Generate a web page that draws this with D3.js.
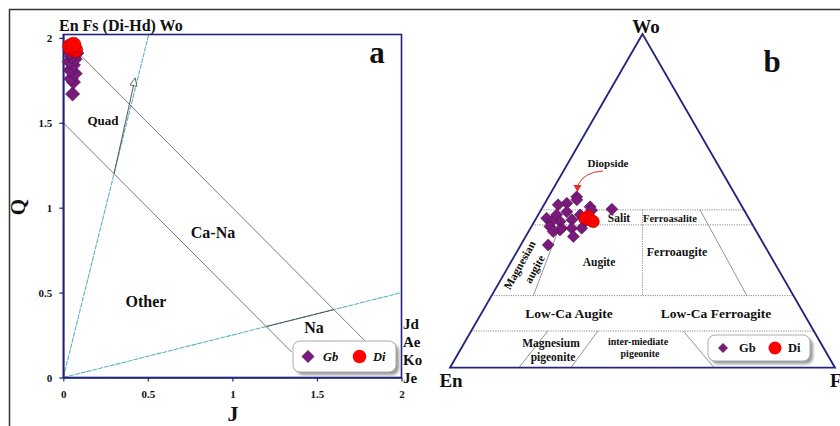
<!DOCTYPE html>
<html><head><meta charset="utf-8">
<script src="https://cdn.jsdelivr.net/npm/d3@7"></script>
<style>
body{margin:0;background:#fff;}
svg{display:block;font-family:"Liberation Serif","Times New Roman",serif;font-weight:bold;}
</style></head><body>
<svg id="c" width="840" height="426"></svg>
<script>
// ---------- Panel a : Q-J diagram ----------
const gbJ = [0.055,0.06,0.045,0.07,0.04,0.06,0.035,0.07,0.05,0.08,0.04];
const gbQ = [1.67,1.74,1.76,1.79,1.81,1.84,1.86,1.875,1.89,1.91,1.91];
const diJ = [0.07,0.05,0.04,0.06];
const diQ = [1.93,1.94,1.95,1.96];
const xTicks = [0,0.5,1,1.5,2];
const yTicks = [0,0.5,1,1.5,2];
const endLabels = ["Jd","Ae","Ko","Je"];

// ---------- Panel b : Wo-En-Fs ternary ----------
const gbWo = [51.2,50.3,49.3,48.8,48.2,47.2,47.5,46.7,45.8,45.8,44.8,44.8,44.3,43.8,43.8,43.8,42.3,41.8,41.8,41.8,41.3,40.8,39.3,36.8];
const gbEn = [41.5,41.9,45.0,47.5,39.5,39.6,34.2,46.3,49.4,43.3,52.5,43.0,46.2,49.5,51.7,43.0,52.9,50.1,47.5,44.9,50.8,52.8,48.3,56.1];
const gbFs = [7.3,7.8,5.7,3.7,12.3,13.2,18.3,7.0,4.8,10.9,2.7,12.2,9.5,6.7,4.5,13.2,4.8,8.1,10.7,13.3,7.9,6.4,12.4,7.1];
const diWo = [45.3,44.8,44.3,43.8];
const diEn = [41.4,42.5,41.5,40.9];
const diFs = [13.3,12.7,14.2,15.3];
const woLevels = [47.3,42.8,21.6,11.0];

const NAVY = "#23237e", PURPLE = "#7a1a7a", RED = "#ff0000";
const svg = d3.select("#c");

// outer frame
svg.append("path").attr("d","M9.5,426V9.5H840").attr("fill","none").attr("stroke","#333").attr("stroke-width",1.5);

// ===== panel a =====
const x = d3.scaleLinear().domain([0,2]).range([63.3,401.5]);
const y = d3.scaleLinear().domain([0,2.02]).range([377.5,34.5]);
const ga = svg.append("g");

const line = (a,b,col,w,dash) => ga.append("line")
  .attr("x1",x(a[0])).attr("y1",y(a[1])).attr("x2",x(b[0])).attr("y2",y(b[1]))
  .attr("stroke",col).attr("stroke-width",w).attr("stroke-dasharray",dash||null);
line([0,0],[0.505,2.02],"#5ab3c8",1.1,"5,1");
line([0,0],[2,0.5],"#5ab3c8",1.1,"5,1");
line([0.1,1.9],[1.8,0.2],"#7a7a7a",1);
line([0,1.5],[1.35,0.15],"#7a7a7a",1);
line([1.2,0.3],[1.6,0.4],"#555",1);
line([0.3,1.2],[0.42,1.74],"#555",1);
{
  const x1=x(0.3),y1=y(1.2),x2=x(0.425),y2=y(1.765);
  const ang=Math.atan2(y2-y1,x2-x1);
  const L=8,W=3.5;
  const bx=x2-L*Math.cos(ang), by=y2-L*Math.sin(ang);
  const px=-Math.sin(ang)*W, py=Math.cos(ang)*W;
  ga.append("path").attr("d",`M${x2},${y2}L${bx+px},${by+py}L${bx-px},${by-py}Z`)
    .attr("fill","#fff").attr("stroke","#555").attr("stroke-width",0.9);
}

ga.append("rect").attr("x",x(0)).attr("y",y(2.02)).attr("width",x(2)-x(0)).attr("height",y(0)-y(2.02))
  .attr("fill","none").attr("stroke",NAVY).attr("stroke-width",1.6);

const xa = ga.append("g").attr("transform",`translate(0,${y(0)})`)
  .call(d3.axisBottom(x).tickValues(xTicks).tickFormat(d3.format("")).tickSize(4).tickSizeOuter(0).tickPadding(9));
const ya = ga.append("g").attr("transform",`translate(${x(0)},0)`)
  .call(d3.axisLeft(y).tickValues(yTicks).tickFormat(d3.format("")).tickSize(4).tickSizeOuter(0).tickPadding(7));
[xa,ya].forEach(a=>{
  a.select(".domain").attr("stroke",NAVY).attr("stroke-width",1.6);
  a.selectAll(".tick line").attr("stroke",NAVY).attr("stroke-width",1.2);
  a.selectAll(".tick text").attr("font-family","Liberation Serif").attr("font-weight","bold").attr("font-size",11).attr("fill","#111");
});

const txt = (g,t,xx,yy,fs,anchor,extra) => {
  const e=g.append("text").attr("x",xx).attr("y",yy).attr("font-size",fs).attr("text-anchor",anchor||"middle").attr("fill","#111").text(t);
  if(extra) extra(e); return e;
};
txt(ga,"En Fs (Di-Hd) Wo",59,31,16,"start");
txt(ga,"a",377,63,31);
txt(ga,"Q",0,0,21,"middle",e=>e.attr("transform","translate(25,207) rotate(-90)"));
txt(ga,"J",233,421,22);
txt(ga,"Quad",103,125,13);
txt(ga,"Ca-Na",213,238,16);
txt(ga,"Other",146,307,16);
txt(ga,"Na",314,333,16);
endLabels.forEach((t,i)=>txt(ga,t,403,329+i*18,15,"start"));

const sq = d3.symbol().type(d3.symbolSquare);
ga.selectAll(".gb").data(gbJ).join("path").attr("class","gb")
  .attr("d",sq.size(100)())
  .attr("transform",(d,i)=>`translate(${x(d)},${y(gbQ[i])}) rotate(45)`)
  .attr("fill",PURPLE).attr("stroke","#4a0c4a").attr("stroke-width",0.6);
ga.selectAll(".di").data(diJ).join("circle").attr("class","di")
  .attr("cx",d=>x(d)).attr("cy",(d,i)=>y(diQ[i])).attr("r",7.5)
  .attr("fill",RED).attr("stroke","#b00000").attr("stroke-width",0.6);

const defs = svg.append("defs");
defs.append("filter").attr("id","sh").attr("x","-20%").attr("y","-20%").attr("width","150%").attr("height","160%")
  .append("feGaussianBlur").attr("stdDeviation",1.5);
function legend(g,x0,y0,w,h,italic,dr,cr,gx,cx,dx){
  g.append("rect").attr("x",x0+3).attr("y",y0+3).attr("width",w).attr("height",h).attr("rx",7)
    .attr("fill","#999").attr("filter","url(#sh)");
  g.append("rect").attr("x",x0).attr("y",y0).attr("width",w).attr("height",h).attr("rx",7)
    .attr("fill","#fff").attr("stroke","#aaa").attr("stroke-width",1);
  const cy=y0+h/2;
  g.append("path").attr("d",d3.symbol().type(d3.symbolSquare).size(dr*dr*2)())
    .attr("transform",`translate(${x0+15},${cy}) rotate(45)`).attr("fill",PURPLE);
  txt(g,"Gb",gx,cy+4,12.5,"start",e=>e.attr("font-style",italic?"italic":null));
  g.append("circle").attr("cx",cx).attr("cy",cy).attr("r",cr).attr("fill",RED);
  txt(g,"Di",dx,cy+4,12.5,"start",e=>e.attr("font-style",italic?"italic":null));
}
legend(ga,293,341,103,31,true,6.5,6.8,323,359.5,373);

// ===== panel b =====
const tX = d3.scaleLinear().domain([0,100]).range([450,835]);
const tY = d3.scaleLinear().domain([0,100]).range([367.7,34]);
const tp = (wo,en,fs) => { const s=wo+en+fs; return [tX((fs+wo/2)/s*100), tY(wo/s*100)]; };
const gb = svg.append("g");

const seg = (a,b,col,w,dash) => gb.append("line")
  .attr("x1",a[0]).attr("y1",a[1]).attr("x2",b[0]).attr("y2",b[1])
  .attr("stroke",col).attr("stroke-width",w).attr("stroke-dasharray",dash||null);
const DOT="#8a8a8a";
woLevels.forEach(w=>seg(tp(w,100-w,0),tp(w,0,100-w),DOT,1,"1.2,1.2"));
seg(tp(47.3,26.35,26.35),tp(21.6,39.2,39.2),DOT,1,"1.2,1.2");
const solidB = [[[47.3,41.3],[21.6,66.3]],[[42.8,7.25],[21.6,10.85]],[[0,17.9],[11,19.9]],[[0,31.4],[11,32.9]],[[11,55.1],[0,68.6]]];
solidB.forEach(([a,b])=>seg(tp(a[0],100-a[0]-a[1],a[1]),tp(b[0],100-b[0]-b[1],b[1]),"#777",0.8));

const V=[tp(100,0,0),tp(0,100,0),tp(0,0,100)];
gb.append("path").attr("d","M"+V.map(p=>p.join(",")).join("L")+"Z")
  .attr("fill","none").attr("stroke",NAVY).attr("stroke-width",1.8).attr("stroke-linejoin","miter");

txt(gb,"Wo",646,33,19);
txt(gb,"En",451,387,19);
txt(gb,"Fs",830,387,19,"start");
txt(gb,"b",772,72,31);
txt(gb,"Diopside",608,167,11);
txt(gb,"Salit",619,222,11.5);
txt(gb,"Ferroasalite",670,222,10.5);
txt(gb,"Ferroaugite",677,256,12);
txt(gb,"Augite",599,266,11.5);
txt(gb,"Low-Ca Augite",569,318,13.5);
txt(gb,"Low-Ca Ferroagite",716,318,13.5);
txt(gb,"Magnesium",551,347,11.5);
txt(gb,"pigeonite",553,361,11.5);
txt(gb,"inter-miediate",638,345,10);
txt(gb,"pigeonite",640,357,10);
txt(gb,"Magnesian",0,0,11.5,"middle",e=>e.attr("transform","translate(523,267) rotate(-61)"));
txt(gb,"augite",0,0,11.5,"middle",e=>e.attr("transform","translate(538,271) rotate(-61)"));

gb.selectAll(".gb").data(gbWo).join("path").attr("class","gb")
  .attr("d",sq.size(72)())
  .attr("transform",(d,i)=>{const p=tp(d,gbEn[i],gbFs[i]);return `translate(${p[0]},${p[1]}) rotate(45)`;})
  .attr("fill",PURPLE).attr("stroke","#4a0c4a").attr("stroke-width",0.5);
gb.selectAll(".di").data(diWo).join("circle").attr("class","di")
  .attr("cx",(d,i)=>tp(d,diEn[i],diFs[i])[0]).attr("cy",(d,i)=>tp(d,diEn[i],diFs[i])[1]).attr("r",6.2)
  .attr("fill",RED).attr("stroke","#b00000").attr("stroke-width",0.5);

gb.append("path").attr("d","M603,171 Q584,172 578,185").attr("fill","none").attr("stroke","#e0302a").attr("stroke-width",1);
gb.append("path").attr("d","M573.5,185L581.5,185L577.5,192Z").attr("fill","#e0302a");

legend(gb,708,335,102,26,false,5,6.5,739,775,788);
</script></body></html>
